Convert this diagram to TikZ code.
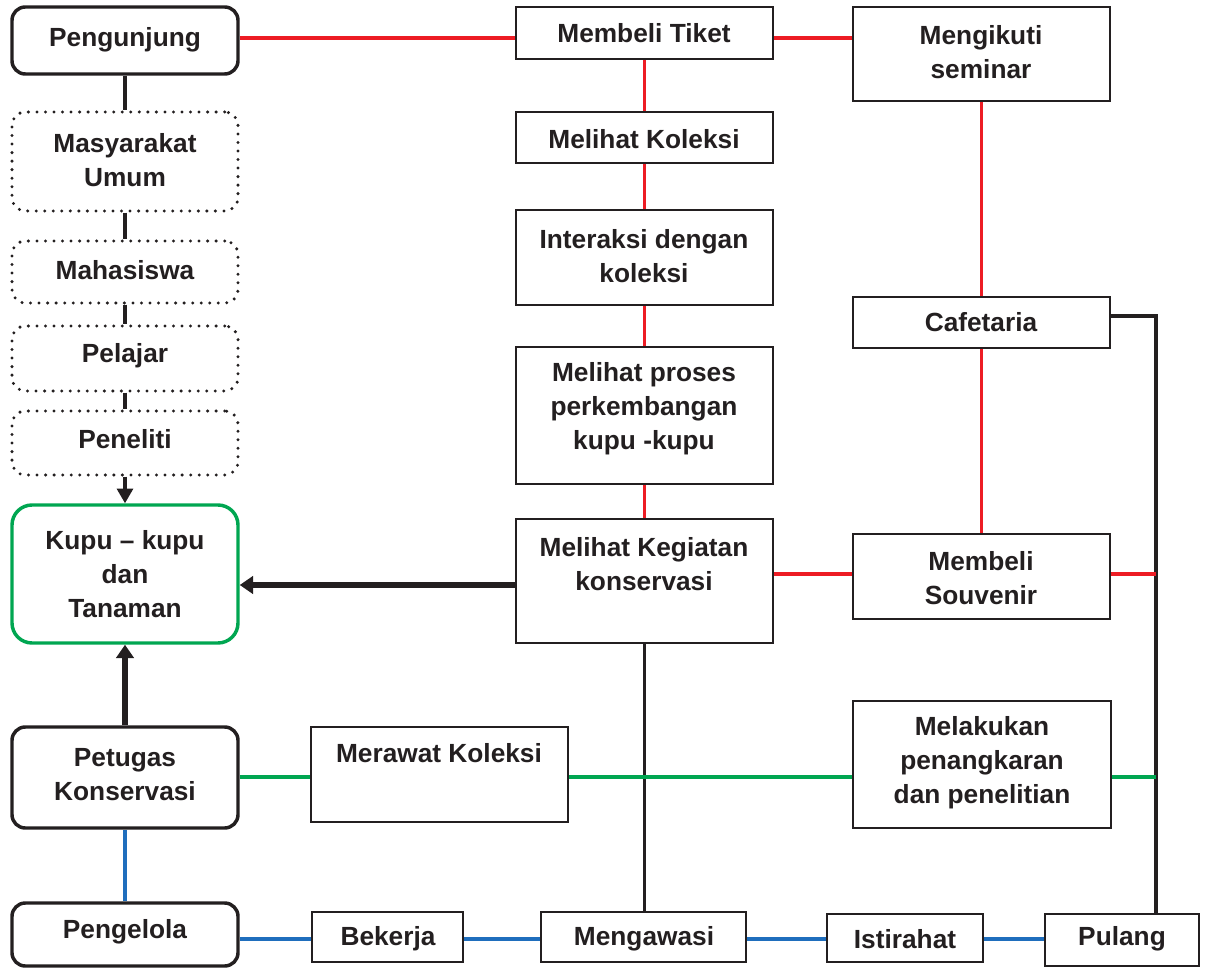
\documentclass[tikz,border=0pt]{standalone}
\usepackage{fontspec}
\setmainfont{Liberation Sans}
\usetikzlibrary{arrows.meta,fit}

\definecolor{ink}{HTML}{231F20}
\definecolor{lred}{HTML}{ED1C24}
\definecolor{lgreen}{HTML}{00A651}
\definecolor{lblue}{HTML}{1F6EBD}

\newcommand\lblfont{\fontsize{19.7pt}{25.5pt}\selectfont\bfseries}

\tikzset{
  frame/.style={inner sep=0pt, fill=white},
  rbox/.style={frame, draw=ink, line width=2.6pt, rounded corners=10pt},
  dbox/.style={frame, draw=ink, line width=2.5pt, rounded corners=10pt,
               dash pattern=on 0pt off 6.4pt, line cap=round},
  gbox/.style={frame, draw=lgreen, line width=2.6pt, rounded corners=15pt},
  sbox/.style={frame, draw=ink, line width=2pt},
  lbl/.style={align=center, inner sep=0pt, text=ink, font=\lblfont},
  redln/.style={draw=lred, line width=2.3pt},
  grnln/.style={draw=lgreen, line width=2.3pt},
  bluln/.style={draw=lblue, line width=2.3pt},
  blkln/.style={draw=ink, line width=2.3pt},
  thinarr/.style={draw=ink, line width=2.3pt, -{Triangle[length=11pt,width=12pt]}},
  bigarr/.style={draw=ink, line width=3.8pt, -{Triangle[length=10pt,width=13pt]}},
}

\begin{document}
\begin{tikzpicture}[x=0.75pt, y=-0.75pt]
\useasboundingbox (0,0) rectangle (1205,969);

% points on the right-hand black line
\coordinate (rail) at (1156,316);
\coordinate (railred) at (1156,574);
\coordinate (railgrn) at (1156,777);

% ---------- boxes ----------
\node[rbox, fit={(12,7) (238,74)}] (peng) {};
\node[dbox, fit={(12,112) (238,211)}] (masy) {};
\node[dbox, fit={(12,241) (238,303)}] (maha) {};
\node[dbox, fit={(12,326) (238,391)}] (pela) {};
\node[dbox, fit={(12,411) (238,475)}] (pene) {};
\node[gbox, fit={(12,505) (238,643)}] (kupu) {};
\node[rbox, fit={(12,727) (238,828)}] (petu) {};
\node[rbox, fit={(12,903) (238,966)}] (pglo) {};

\node[sbox, fit={(516,7) (773,59)}] (tiket) {};
\node[sbox, fit={(516,112) (773,163)}] (kol) {};
\node[sbox, fit={(516,210) (773,305)}] (inter) {};
\node[sbox, fit={(516,347) (773,484)}] (proses) {};
\node[sbox, fit={(516,519) (773,643)}] (keg) {};

\node[sbox, fit={(853,7) (1110,101)}] (semi) {};
\node[sbox, fit={(853,297) (1110,348)}] (cafe) {};
\node[sbox, fit={(853,534) (1110,619)}] (souv) {};

\node[sbox, fit={(311,727) (568,822)}] (raw) {};
\node[sbox, fit={(853,701) (1111,828)}] (laku) {};

\node[sbox, fit={(312,912) (463,962)}] (bek) {};
\node[sbox, fit={(541,912) (746,962)}] (awas) {};
\node[sbox, fit={(827,914) (983,962)}] (ist) {};
\node[sbox, fit={(1045,914) (1199,966)}] (pul) {};

% ---------- connectors ----------
% black lines and arrows
\draw[blkln] (peng.south) -- (masy.north);
\draw[blkln] (masy.south) -- (maha.north);
\draw[blkln] (maha.south) -- (pela.north);
\draw[blkln] (pela.south) -- (pene.north);
\draw[thinarr] (pene.south) -- (kupu.north);
\draw[bigarr] (keg.west |- 0,585) -- (kupu.east |- 0,585);
\draw[bigarr] (petu.north) -- (kupu.south);
\draw[blkln] (keg.south) -- (keg.south |- awas.north);
\draw[blkln] (cafe.east |- rail) -- (rail) -- (rail |- pul.north);

% red lines: visitor route
\draw[redln] (peng.east |- 0,38) -- (tiket.west |- 0,38);
\draw[redln] (tiket.east |- 0,38) -- (semi.west |- 0,38);
\draw[redln] (tiket.south) -- (kol.north);
\draw[redln] (kol.south) -- (inter.north);
\draw[redln] (inter.south) -- (proses.north);
\draw[redln] (proses.south) -- (keg.north);
\draw[redln] (keg.east |- railred) -- (souv.west |- railred);
\draw[redln] (semi.south) -- (cafe.north);
\draw[redln] (cafe.south) -- (souv.north);
\draw[redln] (souv.east |- railred) -- (railred);

% green lines: conservation staff
\draw[grnln] (petu.east |- railgrn) -- (raw.west |- railgrn);
\draw[grnln] (raw.east |- railgrn) -- (laku.west |- railgrn);
\draw[grnln] (laku.east |- railgrn) -- (railgrn);

% blue lines: management
\draw[bluln] (petu.south) -- (pglo.north);
\draw[bluln] (pglo.east |- 0,939) -- (bek.west |- 0,939);
\draw[bluln] (bek.east |- 0,939) -- (awas.west |- 0,939);
\draw[bluln] (awas.east |- 0,939) -- (ist.west |- 0,939);
\draw[bluln] (ist.east |- 0,939) -- (pul.west |- 0,939);

% ---------- labels ----------
\node[lbl] (tpeng) at (125,40) {Pengunjung};
\node[lbl] (tmasy) at (125,160) {Masyarakat\\Umum};
\node[lbl] (tmaha) at (125,270) {Mahasiswa};
\node[lbl] (tpela) at (125,356) {Pelajar};
\node[lbl] (tpene) at (125,439) {Peneliti};
\node[lbl] (tkupu) at (125,574) {Kupu – kupu\\dan\\Tanaman};
\node[lbl] (tpetu) at (125,775) {Petugas\\Konservasi};
\node[lbl] (tpglo) at (125,932) {Pengelola};

\node[lbl] (ttiket) at (644,33) {Membeli Tiket};
\node[lbl] (tkol) at (644,139) {Melihat Koleksi};
\node[lbl] (tinter) at (644,256) {Interaksi dengan\\koleksi};
\node[lbl] (tproses) at (644,409) {Melihat proses\\perkembangan\\kupu -kupu};
\node[lbl] (tkeg) at (644,564) {Melihat Kegiatan\\konservasi};

\node[lbl] (tsemi) at (981,52) {Mengikuti\\seminar};
\node[lbl] (tcafe) at (981,322) {Cafetaria};
\node[lbl] (tsouv) at (981,578) {Membeli\\Souvenir};

\node[lbl] (traw) at (439,753) {Merawat Koleksi};
\node[lbl] (tlaku) at (982,763) {Melakukan\\penangkaran\\dan penelitian};

\node[lbl] (tbek) at (388,939) {Bekerja};
\node[lbl] (tawas) at (644,939) {Mengawasi};
\node[lbl] (tist) at (905,939) {Istirahat};
\node[lbl] (tpul) at (1122,939) {Pulang};
\end{tikzpicture}
\end{document}
